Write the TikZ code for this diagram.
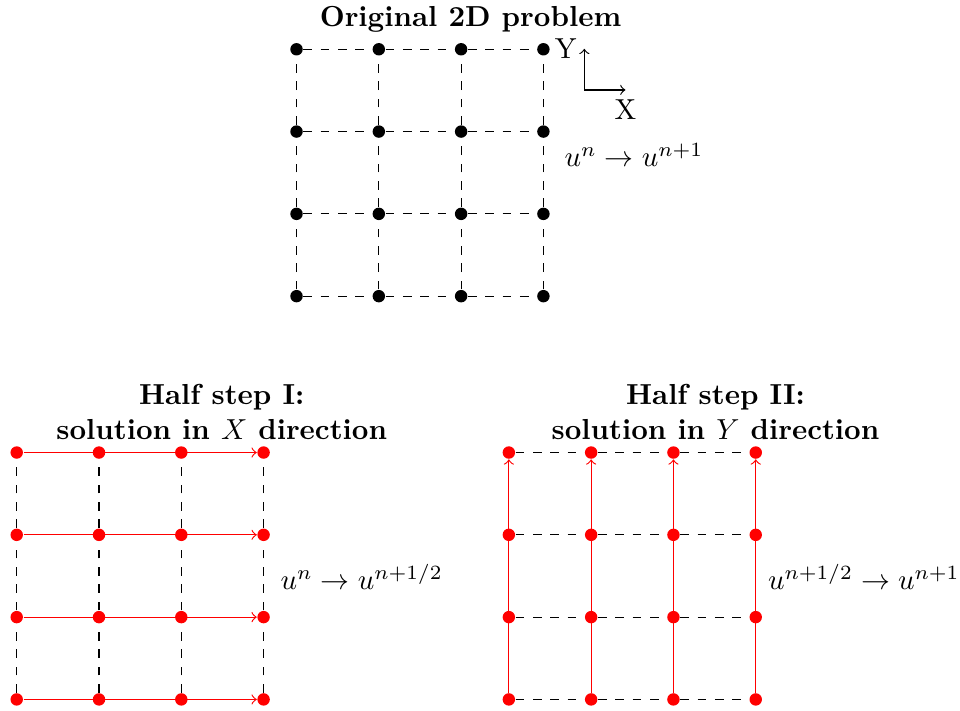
\documentclass[tikz,border=0pt]{standalone}
\begin{document}
\begin{tikzpicture}[
  dot/.style={circle,fill=black,inner sep=0pt,minimum size=4.3pt},
  rdot/.style={circle,fill=red,inner sep=0pt,minimum size=4.3pt},
  gridline/.style={dashed,black},
  redline/.style={red,->},
  lab/.style={inner sep=0pt,anchor=base west},
  ttl/.style={font=\bfseries,anchor=base,inner sep=0pt},
]
\useasboundingbox (-0.203,-0.14) rectangle (11.462,8.499);
% grids
\foreach \i in {0,...,3}{\foreach \j in {0,...,3}{
  \node[dot] (t\i\j) at ({3.4+\i},{4.9+\j}) {};
  \node[rdot] (l\i\j) at ({\i},{\j}) {};
  \node[rdot] (r\i\j) at ({5.98+\i},{\j}) {};
}}
\foreach \i in {0,...,2}{\pgfmathtruncatemacro\k{\i+1}
  \foreach \j in {0,...,3}{
    \draw[gridline] (t\i\j) -- (t\k\j);
    \draw[gridline] (t\j\i) -- (t\j\k);
    \draw[gridline] (l\j\i) -- (l\j\k);
    \draw[gridline] (r\i\j) -- (r\k\j);
  }}
\foreach \j in {0,...,3}{
  \draw[redline] (l0\j) -- (l3\j);
  \draw[redline] (r\j0) -- (r\j3);
}
% axes
\coordinate (ax) at (6.897,7.406);
\coordinate (ay) at (6.897,7.906);
\coordinate (axx) at (7.397,7.406);
\draw[->] (ax) -- (ay);
\draw[->] (ax) -- (axx);
\node[anchor=east,inner sep=2.5pt] (ylab) at (ay) {Y};
\node[below] (xlab) at (axx) {X};
% formulas
\node[lab] (f0) at (6.65,6.474) {$u^n \rightarrow u^{n+1}$};
\node[lab] (f1) at (3.199,1.330) {$u^n \rightarrow u^{n+1/2}$};
\node[lab] (f2) at (9.123,1.330) {$u^{n+1/2} \rightarrow u^{n+1}$};
% titles
\node[ttl] (t0) at (5.514,8.175) {Original 2D problem};
\node[ttl] (t1a) at (2.491,3.587) {Half step I:};
\node[ttl] (t1b) at (2.491,3.153) {solution in $X$ direction};
\node[ttl] (t2a) at (8.491,3.587) {Half step II:};
\node[ttl] (t2b) at (8.491,3.153) {solution in $Y$ direction};
\end{tikzpicture}
\end{document}
